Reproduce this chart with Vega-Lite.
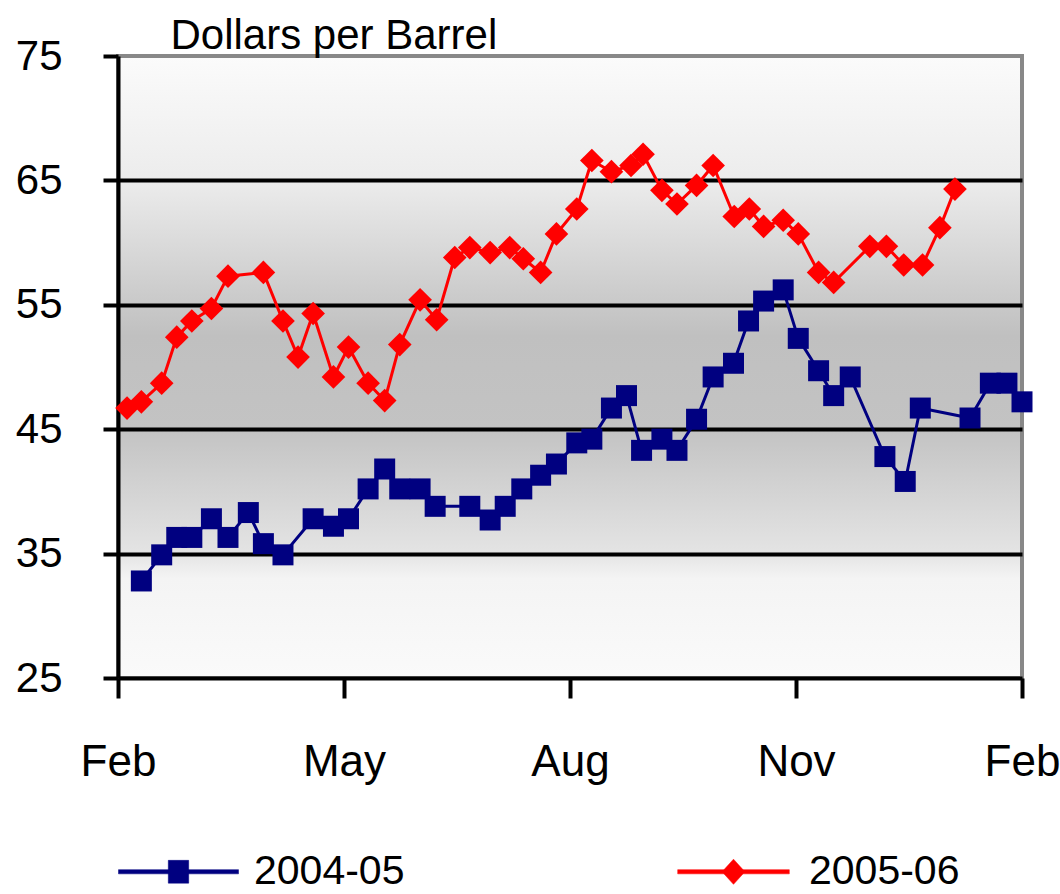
{
  "$schema": "https://vega.github.io/schema/vega-lite/v6.json",
  "autosize": "none",
  "width": 904,
  "height": 622,
  "padding": {"left": 118, "top": 56, "right": 38, "bottom": 216},
  "background": "white",
  "datasets": {
    "prices": [
      {"series": "2004-05", "m": 0.31, "price": 32.8},
      {"series": "2004-05", "m": 0.58, "price": 34.9},
      {"series": "2004-05", "m": 0.78, "price": 36.3},
      {"series": "2004-05", "m": 0.98, "price": 36.3},
      {"series": "2004-05", "m": 1.24, "price": 37.8},
      {"series": "2004-05", "m": 1.46, "price": 36.3},
      {"series": "2004-05", "m": 1.73, "price": 38.3},
      {"series": "2004-05", "m": 1.93, "price": 35.8},
      {"series": "2004-05", "m": 2.19, "price": 34.9},
      {"series": "2004-05", "m": 2.59, "price": 37.8},
      {"series": "2004-05", "m": 2.86, "price": 37.2},
      {"series": "2004-05", "m": 3.06, "price": 37.8},
      {"series": "2004-05", "m": 3.32, "price": 40.2},
      {"series": "2004-05", "m": 3.54, "price": 41.8},
      {"series": "2004-05", "m": 3.74, "price": 40.2},
      {"series": "2004-05", "m": 4.01, "price": 40.2},
      {"series": "2004-05", "m": 4.21, "price": 38.8},
      {"series": "2004-05", "m": 4.67, "price": 38.8},
      {"series": "2004-05", "m": 4.94, "price": 37.7},
      {"series": "2004-05", "m": 5.14, "price": 38.8},
      {"series": "2004-05", "m": 5.36, "price": 40.2},
      {"series": "2004-05", "m": 5.61, "price": 41.3},
      {"series": "2004-05", "m": 5.82, "price": 42.2},
      {"series": "2004-05", "m": 6.09, "price": 43.9},
      {"series": "2004-05", "m": 6.29, "price": 44.2},
      {"series": "2004-05", "m": 6.55, "price": 46.7},
      {"series": "2004-05", "m": 6.75, "price": 47.7},
      {"series": "2004-05", "m": 6.95, "price": 43.3},
      {"series": "2004-05", "m": 7.22, "price": 44.2},
      {"series": "2004-05", "m": 7.42, "price": 43.3},
      {"series": "2004-05", "m": 7.68, "price": 45.8},
      {"series": "2004-05", "m": 7.9, "price": 49.2},
      {"series": "2004-05", "m": 8.17, "price": 50.3},
      {"series": "2004-05", "m": 8.37, "price": 53.7},
      {"series": "2004-05", "m": 8.57, "price": 55.3},
      {"series": "2004-05", "m": 8.83, "price": 56.2},
      {"series": "2004-05", "m": 9.03, "price": 52.3},
      {"series": "2004-05", "m": 9.3, "price": 49.7},
      {"series": "2004-05", "m": 9.5, "price": 47.7},
      {"series": "2004-05", "m": 9.72, "price": 49.2},
      {"series": "2004-05", "m": 10.18, "price": 42.8},
      {"series": "2004-05", "m": 10.45, "price": 40.8},
      {"series": "2004-05", "m": 10.65, "price": 46.7},
      {"series": "2004-05", "m": 11.31, "price": 45.9},
      {"series": "2004-05", "m": 11.58, "price": 48.7},
      {"series": "2004-05", "m": 11.8, "price": 48.7},
      {"series": "2004-05", "m": 12.0, "price": 47.2},
      {"series": "2005-06", "m": 0.12, "price": 46.7},
      {"series": "2005-06", "m": 0.31, "price": 47.2},
      {"series": "2005-06", "m": 0.58, "price": 48.7},
      {"series": "2005-06", "m": 0.78, "price": 52.4},
      {"series": "2005-06", "m": 0.98, "price": 53.7},
      {"series": "2005-06", "m": 1.24, "price": 54.7},
      {"series": "2005-06", "m": 1.46, "price": 57.3},
      {"series": "2005-06", "m": 1.93, "price": 57.6},
      {"series": "2005-06", "m": 2.19, "price": 53.7},
      {"series": "2005-06", "m": 2.39, "price": 50.8},
      {"series": "2005-06", "m": 2.59, "price": 54.3},
      {"series": "2005-06", "m": 2.86, "price": 49.2},
      {"series": "2005-06", "m": 3.06, "price": 51.6},
      {"series": "2005-06", "m": 3.32, "price": 48.7},
      {"series": "2005-06", "m": 3.54, "price": 47.3},
      {"series": "2005-06", "m": 3.74, "price": 51.8},
      {"series": "2005-06", "m": 4.01, "price": 55.4},
      {"series": "2005-06", "m": 4.23, "price": 53.8},
      {"series": "2005-06", "m": 4.47, "price": 58.8},
      {"series": "2005-06", "m": 4.67, "price": 59.6},
      {"series": "2005-06", "m": 4.94, "price": 59.2},
      {"series": "2005-06", "m": 5.2, "price": 59.6},
      {"series": "2005-06", "m": 5.38, "price": 58.7},
      {"series": "2005-06", "m": 5.61, "price": 57.6},
      {"series": "2005-06", "m": 5.82, "price": 60.7},
      {"series": "2005-06", "m": 6.09, "price": 62.7},
      {"series": "2005-06", "m": 6.29, "price": 66.6},
      {"series": "2005-06", "m": 6.55, "price": 65.7},
      {"series": "2005-06", "m": 6.81, "price": 66.2},
      {"series": "2005-06", "m": 6.97, "price": 67.1},
      {"series": "2005-06", "m": 7.22, "price": 64.2},
      {"series": "2005-06", "m": 7.42, "price": 63.1},
      {"series": "2005-06", "m": 7.68, "price": 64.6},
      {"series": "2005-06", "m": 7.9, "price": 66.2},
      {"series": "2005-06", "m": 8.18, "price": 62.1},
      {"series": "2005-06", "m": 8.38, "price": 62.7},
      {"series": "2005-06", "m": 8.57, "price": 61.3},
      {"series": "2005-06", "m": 8.83, "price": 61.8},
      {"series": "2005-06", "m": 9.03, "price": 60.7},
      {"series": "2005-06", "m": 9.3, "price": 57.6},
      {"series": "2005-06", "m": 9.5, "price": 56.8},
      {"series": "2005-06", "m": 9.98, "price": 59.7},
      {"series": "2005-06", "m": 10.2, "price": 59.7},
      {"series": "2005-06", "m": 10.43, "price": 58.2},
      {"series": "2005-06", "m": 10.68, "price": 58.2},
      {"series": "2005-06", "m": 10.91, "price": 61.2},
      {"series": "2005-06", "m": 11.11, "price": 64.3}
    ]
  },
  "data": {"name": "prices"},
  "encoding": {
    "x": {"field": "m", "type": "quantitative", "scale": {"domain": [0, 12], "nice": false, "zero": false},
      "axis": {"values": [0, 3, 6, 9, 12], "labelExpr": "['Feb','May','Aug','Nov','Feb'][round(datum.value/3)]", "title": null, "grid": false,
        "domainColor": "black", "domainWidth": 4, "tickColor": "black", "tickWidth": 4, "tickSize": 20,
        "labelFont": "Liberation Sans", "labelFontSize": 44, "labelColor": "black", "labelPadding": 42, "labelFlush": false, "labelOverlap": false}},
    "y": {"field": "price", "type": "quantitative", "scale": {"domain": [25, 75], "nice": false, "zero": false},
      "axis": {"values": [25, 35, 45, 55, 65, 75], "grid": true,
        "title": "Dollars per Barrel", "titleAngle": 0, "titleX": 52, "titleY": -8, "titleAlign": "left", "titleBaseline": "alphabetic",
        "titleFont": "Liberation Sans", "titleFontSize": 42, "titleFontWeight": "normal", "titleColor": "black",
        "gridColor": {"condition": {"test": "datum.value == 25 || datum.value == 75", "value": "transparent"}, "value": "black"},
        "gridWidth": 4, "gridOpacity": 1,
        "domainColor": "black", "domainWidth": 4, "tickColor": "black", "tickWidth": 4, "tickSize": 15,
        "labelFont": "Liberation Sans", "labelFontSize": 42, "labelColor": "black", "labelPadding": 41, "labelFlush": false, "labelOverlap": false}},
    "color": {"field": "series", "type": "nominal",
      "scale": {"domain": ["2004-05", "2005-06"], "range": ["#000080", "#ff0000"]},
      "legend": {"title": null, "orient": "none", "legendX": 0, "legendY": 755, "direction": "horizontal", "padding": 0,
        "labelFont": "Liberation Sans", "labelFontSize": 41, "labelColor": "black", "labelOffset": 15, "columnPadding": 268,
        "symbolSize": 14400, "labelLimit": 400, "symbolStrokeWidth": 0.5, "symbolOpacity": 1,
        "symbolType": {"expr": "datum.value === '2004-05' ? 'M-1,-0.035H1V0.035H-1Z M-0.17,-0.19H0.17V0.19H-0.17Z' : 'M-0.93,-0.035H0.93V0.035H-0.93Z M0,-0.21L0.19,0L0,0.21L-0.19,0Z'"}}}
  },
  "layer": [
    {"mark": {"type": "line", "strokeWidth": 3}},
    {"transform": [{"filter": "datum.series === '2004-05'"}],
      "mark": {"type": "point", "shape": "square", "size": 441, "filled": true, "opacity": 1}},
    {"transform": [{"filter": "datum.series === '2005-06'"}],
      "mark": {"type": "point", "shape": "diamond", "size": 560, "filled": true, "opacity": 1}}
  ],
  "config": {
    "view": {"stroke": "#888888", "strokeWidth": 4,
      "fill": {"gradient": "linear", "x1": 0, "y1": 0, "x2": 0, "y2": 1,
        "stops": [
          {"offset": 0, "color": "#fbfbfb"},
          {"offset": 0.2, "color": "#ececec"},
          {"offset": 0.45, "color": "#c0c0c0"},
          {"offset": 0.6, "color": "#c3c3c3"},
          {"offset": 0.8, "color": "#e4e4e4"},
          {"offset": 0.84, "color": "#f4f4f4"},
          {"offset": 1, "color": "#fafafa"}
        ]}}
  }
}
